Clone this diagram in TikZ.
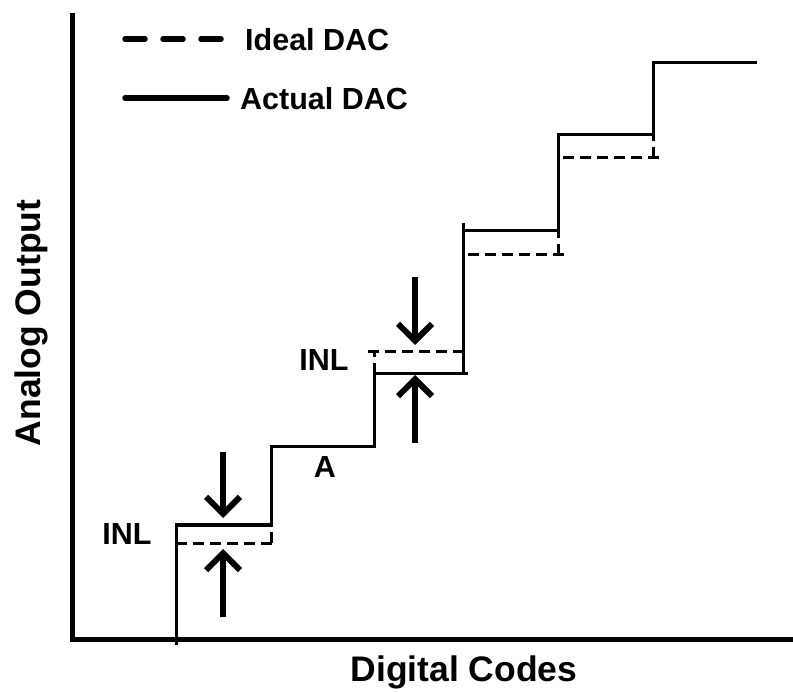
\documentclass[tikz,border=0pt]{standalone}
\usepackage{fontspec}
\setmainfont{Liberation Sans}
\usetikzlibrary{arrows.meta}
\tikzset{
  axisline/.style={line width=5pt},
  actual/.style={line width=3pt, line join=miter},
  ideal/.style={line width=3pt, dash pattern=on 11pt off 6pt},
  legdash/.style={line width=5.5pt, line cap=round, dash pattern=on 20pt off 18pt},
  legsolid/.style={line width=5.5pt, line cap=round},
  inlarrow/.style={line width=6pt, -{Straight Barb[length=17pt,width=34pt,line width=6pt]}},
  lbl/.style={font=\fontsize{30.5}{32}\selectfont\bfseries, inner sep=0pt},
  axlbl/.style={font=\fontsize{35.5}{37}\selectfont\bfseries, inner sep=0pt},
}
\begin{document}
\begin{tikzpicture}[x=1pt,y=-1pt]
\useasboundingbox (0,0) rectangle (793,692);
% axes
\coordinate (top) at (72,13);
\coordinate (origin) at (72,639);
\coordinate (right) at (795,639);
\draw[axisline] (top) -- (origin) -- (right);
% ideal staircase (dashed)
\draw[ideal] (176,645) -- (176,543) -- (278,543)
  (271,543) -- (271,447) -- (374,447) -- (374,352) (368,352) -- (470,352)
  (463,352) -- (463,255) -- (565,255)
  (558,255) -- (558,158) -- (662,158)
  (653,158) -- (653,63);
% actual staircase (solid)
\draw[actual] (176,645) -- (176,525) -- (271,525) -- (271,447) -- (374,447)
  -- (374,374) -- (468,374);
\draw[actual] (463,374) -- (463,223);
\draw[actual] (463,231) -- (558,231) -- (558,135) -- (653,135) -- (653,63) -- (757,63);
% legend
\coordinate (l1a) at (125,39); \coordinate (l1b) at (227,39);
\coordinate (l2a) at (125,98); \coordinate (l2b) at (227,98);
\draw[legdash] (l1a) -- (l1b);
\draw[legsolid] (l2a) -- (l2b);
\node[lbl, anchor=west] (ideal) at (245,40) {Ideal DAC};
\node[lbl, anchor=west] (actualtxt) at (240,99) {Actual DAC};
% INL arrows, step 1
\coordinate (d1s) at (223,452); \coordinate (d1e) at (223,518);
\coordinate (u1s) at (223,617); \coordinate (u1e) at (223,549);
\draw[inlarrow] (d1s) -- (d1e);
\draw[inlarrow] (u1s) -- (u1e);
% INL arrows, step 3
\coordinate (d3s) at (415,277); \coordinate (d3e) at (415,345);
\coordinate (u3s) at (415,443); \coordinate (u3e) at (415,375);
\draw[inlarrow] (d3s) -- (d3e);
\draw[inlarrow] (u3s) -- (u3e);
% labels
\node[lbl] (inl1) at (127,534) {INL};
\node[lbl] (inl3) at (324,360) {INL};
\node[lbl] (a) at (325,467) {A};
\node[axlbl, rotate=90] (ylab) at (31,323) {Analog Output};
\node[axlbl] (xlab) at (464,672) {Digital Codes};
\end{tikzpicture}
\end{document}
